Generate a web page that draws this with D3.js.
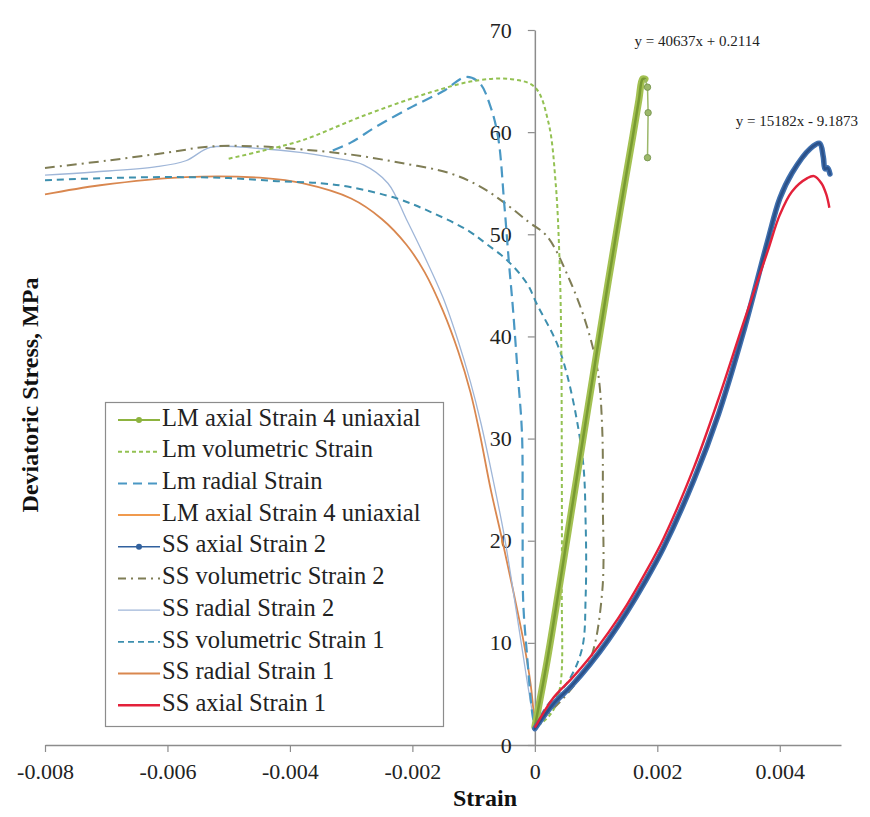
<!DOCTYPE html>
<html>
<head>
<meta charset="utf-8">
<script src="https://cdnjs.cloudflare.com/ajax/libs/d3/7.8.5/d3.min.js"></script>
<style>
  html, body { margin: 0; padding: 0; background: #fff; }
  svg, svg text { font-family: "Liberation Serif", "Times New Roman", serif; }
</style>
</head>
<body>
<div id="chart"></div>
<script>
// tick values and labels
const xTicks = [-0.008, -0.006, -0.004, -0.002, 0, 0.002, 0.004];
const xTickLabels = ["-0.008", "-0.006", "-0.004", "-0.002", "0", "0.002", "0.004"];
const yTicks = [0, 10, 20, 30, 40, 50, 60, 70];

const seriesNames = [
  "LM axial Strain 4 uniaxial",
  "Lm volumetric Strain",
  "Lm radial Strain",
  "LM axial Strain 4 uniaxial",
  "SS axial Strain 2",
  "SS volumetric Strain 2",
  "SS radial Strain 2",
  "SS volumetric Strain 1",
  "SS radial Strain 1",
  "SS axial Strain 1"
];

// [strain, deviatoric stress MPa]
const lmAxialGreen = [[0,1.8],[0.0002,8.2],[0.0004,15.5],[0.0006,23],[0.0008,30.5],[0.001,38],[0.0012,45.4],[0.0014,52.6],[0.0016,59.6],[0.0017,63.2],[0.00176,65.2],[0.0018,65.2],[0.00184,64.4],[0.00185,61.9],[0.00184,57.5]];
const lmVolumetric = [[-0.0050,57.4],[-0.0045,58.1],[-0.0038,59.2],[-0.0028,61.6],[-0.0017,63.9],[-0.0010,65.0],[-0.0004,65.2],[0,64.4],[0.00022,61],[0.00034,55],[0.0004,48],[0.00043,40],[0.00044,28],[0.00044,15],[0.00042,6],[0.0003,3.4],[0.00012,2.2],[0,1.8]];
const lmRadial = [[-0.0033,58.2],[-0.003,59],[-0.0026,60.5],[-0.002,62.5],[-0.0015,64],[-0.00112,65.4],[-0.0009,64.8],[-0.00073,62.6],[-0.0006,59.5],[-0.0005,53],[-0.00042,47],[-0.00036,42.9],[-0.00028,36.4],[-0.00021,30.5],[-0.0002,22],[-0.00019,14],[-0.00013,9],[-0.00004,3],[0,1.8]];
const lmAxialOrange = [[0,1.8],[0.0004,15.3],[0.0008,30.3],[0.0012,45.2],[0.0016,59.4],[0.00176,64.8]];
const ssAxial2 = [[0,1.6],[0.0003,4.0],[0.0006,5.8],[0.0009,7.9],[0.0012,10.3],[0.0015,13],[0.0018,16],[0.0021,19.3],[0.0026,26],[0.003,32.4],[0.0034,40.3],[0.0038,49.3],[0.004,53.5],[0.0042,56],[0.0045,58.4],[0.00465,58.9],[0.00471,57.6],[0.00474,56.4],[0.00478,56.5],[0.00482,55.9]];
const ssVolumetric2 = [[-0.008,56.5],[-0.007,57.2],[-0.006,58.0],[-0.0053,58.6],[-0.0045,58.6],[-0.0038,58.3],[-0.003,57.8],[-0.0022,57],[-0.0014,56],[-0.0009,54.7],[-0.0005,53.1],[-0.0001,51.2],[0.0002,49.8],[0.00057,45.5],[0.00085,41],[0.00103,36.5],[0.0011,31],[0.00111,24],[0.0011,15],[0.0009,8.3],[0.00057,5.3],[0.00024,3.2],[0,1.9]];
const ssRadial2 = [[-0.008,55.8],[-0.0072,56.1],[-0.0062,56.6],[-0.0057,57.2],[-0.0053,58.5],[-0.0045,58.4],[-0.0038,58],[-0.0033,57.5],[-0.0028,56.8],[-0.0024,55],[-0.0021,51.5],[-0.0018,47.8],[-0.0015,43.8],[-0.00125,39.5],[-0.00105,35.5],[-0.00088,31.5],[-0.0007,26.5],[-0.0005,20.5],[-0.0003,13],[-0.00012,6],[0,1.8]];
const ssVolumetric1 = [[-0.008,55.3],[-0.007,55.5],[-0.006,55.6],[-0.005,55.5],[-0.0042,55.2],[-0.0035,55],[-0.003,54.6],[-0.00225,53.5],[-0.00167,52.1],[-0.0011,50.4],[-0.0008,49.1],[-0.00046,47.5],[-0.00013,45.2],[0.00003,43.2],[0.00042,38.4],[0.00077,28.6],[0.00083,21.6],[0.00083,14.6],[0.00077,9.4],[0.00054,6.2],[0.00018,3.7],[0,1.8]];
const ssRadial1 = [[-0.008,53.9],[-0.0071,54.8],[-0.0057,55.6],[-0.0044,55.5],[-0.0038,55],[-0.003,53.5],[-0.0025,51.5],[-0.0021,49],[-0.0018,46.3],[-0.0015,42.5],[-0.00125,38.5],[-0.00105,34.5],[-0.0009,30.5],[-0.00072,25],[-0.00053,20],[-0.00035,15],[-0.00018,10],[-0.00007,6],[0,1.8]];
const ssAxial1 = [[0,1.7],[0.0003,4.6],[0.0006,6.5],[0.0009,8.6],[0.0012,11],[0.0015,13.7],[0.0018,16.8],[0.0021,20.2],[0.0026,27.2],[0.003,33.9],[0.0034,41.2],[0.0038,48.3],[0.004,51.9],[0.0042,54.2],[0.00445,55.5],[0.00456,55.7],[0.00468,55],[0.00476,53.9],[0.00481,52.6]];

const trendLabels = [
  { text: "y = 40637x + 0.2114", at: [0.00265, 68.8] },
  { text: "y = 15182x - 9.1873", at: [0.00428, 60.9] }
];

const width = 870, height = 817;
const x = d3.scaleLinear().domain([-0.008, 0.005]).range([45, 841]);
const y = d3.scaleLinear().domain([0, 70]).range([745, 30]);

const svg = d3.select("#chart").append("svg")
  .attr("width", width)
  .attr("height", height)
  .attr("font-family", "Liberation Serif, Times New Roman, serif");

const axisColor = "#8c8c8c";
const serif = "'Liberation Serif', 'Times New Roman', serif";

// x axis
const xAxis = svg.append("g")
  .attr("transform", `translate(0,${y(0)})`)
  .call(d3.axisBottom(x).tickValues(xTicks).tickFormat((d, i) => xTickLabels[i]).tickSizeInner(7).tickSizeOuter(0).tickPadding(11));

// y axis crosses at strain = 0
const yAxis = svg.append("g")
  .attr("transform", `translate(${x(0)},0)`)
  .call(d3.axisLeft(y).tickValues(yTicks).tickSizeInner(7).tickSizeOuter(0).tickPadding(16));

[xAxis, yAxis].forEach(a => {
  a.attr("font-family", serif);
  a.select(".domain").attr("stroke", axisColor).attr("stroke-width", 1.5);
  a.selectAll(".tick line").attr("stroke", axisColor).attr("stroke-width", 1.2);
  a.selectAll(".tick text")
    .attr("fill", "#222")
    .style("font-family", serif)
    .style("font-size", "22px");
});

// axis titles
svg.append("text")
  .attr("x", 485)
  .attr("y", 800)
  .attr("text-anchor", "middle")
  .attr("dominant-baseline", "middle")
  .style("font-family", serif)
  .style("font-weight", "bold")
  .style("font-size", "24px")
  .attr("fill", "#111")
  .text("Strain");

svg.append("text")
  .attr("transform", `translate(32,395) rotate(-90)`)
  .attr("text-anchor", "middle")
  .attr("dominant-baseline", "middle")
  .style("font-family", serif)
  .style("font-weight", "bold")
  .style("font-size", "24px")
  .attr("fill", "#111")
  .text("Deviatoric Stress, MPa");

const line = d3.line()
  .x(d => x(d[0]))
  .y(d => y(d[1]))
  .curve(d3.curveCatmullRom.alpha(0.5));

// drawing order: back to front
const series = [
  { name: seriesNames[8], data: ssRadial1, color: "#d9874f", width: 1.8 },
  { name: seriesNames[6], data: ssRadial2, color: "#9fb6d8", width: 1.3 },
  { name: seriesNames[7], data: ssVolumetric1, color: "#3d8fae", width: 2, dash: "7,5" },
  { name: seriesNames[5], data: ssVolumetric2, color: "#7f7d55", width: 2, dash: "10,5,2,5" },
  { name: seriesNames[2], data: lmRadial, color: "#4a98c4", width: 2.2, dash: "11,6" },
  { name: seriesNames[1], data: lmVolumetric, color: "#93c152", width: 2, dash: "4,3" },
  { name: seriesNames[3], data: lmAxialOrange, color: "#f09a4e", width: 1.5 },
  { name: seriesNames[0], data: lmAxialGreen, color: "#a3c152", core: "#789a32", width: 7, marker: true },
  { name: seriesNames[4], data: ssAxial2, color: "#3f6fae", core: "#2b5189", width: 5.5, marker: true },
  { name: seriesNames[9], data: ssAxial1, color: "#e3213a", width: 2.4 }
];

series.forEach(s => {
  if (s.marker) {
    // dense markers form the thick band; the green tail after the peak is thin
    const peak = d3.maxIndex(s.data, d => d[1]);
    const tailStart = s.name === seriesNames[0] ? peak + 1 : s.data.length;
    const body = s.data.slice(0, tailStart + 1);
    svg.append("path")
      .datum(body)
      .attr("fill", "none")
      .attr("stroke", s.color)
      .attr("stroke-width", s.width)
      .attr("stroke-linejoin", "round")
      .attr("stroke-linecap", "round")
      .attr("d", line);
    svg.append("path")
      .datum(body)
      .attr("fill", "none")
      .attr("stroke", s.core)
      .attr("stroke-width", 2.5)
      .attr("stroke-linecap", "round")
      .attr("d", line);
    if (tailStart < s.data.length) {
      const tail = s.data.slice(tailStart);
      svg.append("path")
        .datum(tail)
        .attr("fill", "none")
        .attr("stroke", "#9cb86a")
        .attr("stroke-width", 1.5)
        .attr("d", d3.line().x(d => x(d[0])).y(d => y(d[1])));
      svg.selectAll(null)
        .data(tail.slice(1))
        .join("circle")
        .attr("cx", d => x(d[0]))
        .attr("cy", d => y(d[1]))
        .attr("r", 3.2)
        .attr("fill", "#9cb86a")
        .attr("stroke", "#7d9a55");
    }
  } else {
    svg.append("path")
      .datum(s.data)
      .attr("fill", "none")
      .attr("stroke", s.color)
      .attr("stroke-width", s.width)
      .attr("stroke-dasharray", s.dash || null)
      .attr("d", line);
  }
});

// trendline equations
svg.selectAll(".eq")
  .data(trendLabels)
  .join("text")
  .attr("class", "eq")
  .attr("x", d => x(d.at[0]))
  .attr("y", d => y(d.at[1]))
  .attr("text-anchor", "middle")
  .attr("dominant-baseline", "middle")
  .style("font-family", serif)
  .style("font-size", "15px")
  .attr("fill", "#222")
  .text(d => d.text);

// legend
const legendStyle = [
  { color: "#8db33f", width: 2, marker: true },
  { color: "#93c152", width: 2, dash: "4,3" },
  { color: "#4a98c4", width: 2, dash: "9,6" },
  { color: "#f09a4e", width: 2 },
  { color: "#31619e", width: 1.5, marker: true },
  { color: "#7f7d55", width: 2, dash: "8,5,2,5" },
  { color: "#9fb6d8", width: 1.2 },
  { color: "#3d8fae", width: 1.8, dash: "6,4" },
  { color: "#d9874f", width: 2 },
  { color: "#e3213a", width: 2.4 }
];

const legend = svg.append("g");
legend.append("rect")
  .attr("x", 105.5)
  .attr("y", 402.5)
  .attr("width", 338)
  .attr("height", 324)
  .attr("fill", "#fff")
  .attr("stroke", "#8c8c8c")
  .attr("stroke-width", 1.2);

const rowY = i => 420 + i * 31.7;
const item = legend.selectAll(".item")
  .data(seriesNames)
  .join("g")
  .attr("class", "item")
  .attr("transform", (d, i) => `translate(0,${rowY(i)})`);

item.append("line")
  .attr("x1", 118)
  .attr("x2", 160)
  .attr("stroke", (d, i) => legendStyle[i].color)
  .attr("stroke-width", (d, i) => legendStyle[i].width)
  .attr("stroke-dasharray", (d, i) => legendStyle[i].dash || null);

item.each(function(d, i) {
  if (!legendStyle[i].marker) return;
  d3.select(this).append("circle")
    .attr("cx", 139)
    .attr("r", 3)
    .attr("fill", legendStyle[i].color);
});

item.append("text")
  .attr("x", 162)
  .attr("dominant-baseline", "middle")
  .style("font-family", serif)
  .style("font-size", "24.5px")
  .attr("fill", "#222")
  .text(d => d);
</script>
</body>
</html>
